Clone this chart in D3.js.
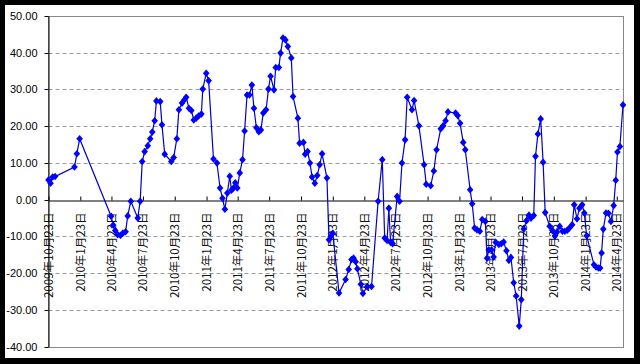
<!DOCTYPE html>
<html><head><meta charset="utf-8">
<script src="https://cdn.jsdelivr.net/npm/d3@7"></script>
<style>body{margin:0;background:#000}svg{display:block}</style>
</head><body>
<svg id="c" width="640" height="364"></svg>
<script>
const dates=[
"2009-10-23","2009-10-29","2009-11-04","2009-11-11",
"2010-01-06","2010-01-13","2010-01-21",
"2010-04-22","2010-04-28","2010-05-04","2010-05-11","2010-05-19","2010-05-26","2010-06-03","2010-06-09","2010-06-18",
"2010-07-08","2010-07-15","2010-07-21","2010-07-28","2010-08-06","2010-08-13","2010-08-19","2010-08-26","2010-08-31",
"2010-09-11","2010-09-16","2010-09-24","2010-10-13","2010-10-20","2010-10-29","2010-11-04","2010-11-13","2010-11-20","2010-11-25",
"2010-12-03","2010-12-10","2010-12-17","2010-12-24","2010-12-31",
"2011-01-08","2011-01-12","2011-01-22","2011-01-29","2011-02-12","2011-02-22","2011-03-03","2011-03-10","2011-03-17","2011-03-24","2011-03-31",
"2011-04-05","2011-04-11","2011-04-16","2011-04-22","2011-04-29","2011-05-07","2011-05-13","2011-05-20","2011-05-27",
"2011-06-03","2011-06-09","2011-06-16","2011-06-23","2011-06-29","2011-07-06","2011-07-14","2011-07-21","2011-07-27",
"2011-08-06","2011-08-11","2011-08-20","2011-08-25","2011-09-01","2011-09-08","2011-09-15","2011-09-25","2011-09-30",
"2011-10-14","2011-10-19","2011-10-30","2011-11-04","2011-11-11","2011-11-18","2011-11-24","2011-12-02","2011-12-09","2011-12-16","2011-12-23",
"2012-01-06","2012-01-12","2012-01-17","2012-01-23","2012-02-10","2012-02-29","2012-03-09","2012-03-17","2012-03-23","2012-03-29",
"2012-04-03","2012-04-13","2012-04-19","2012-05-02","2012-05-14","2012-06-02","2012-06-14","2012-06-21","2012-06-28",
"2012-07-03","2012-07-08","2012-07-14","2012-07-27","2012-08-03","2012-08-10","2012-08-19","2012-08-25",
"2012-09-08","2012-09-14","2012-09-28","2012-10-13","2012-10-19","2012-11-01","2012-11-10","2012-11-18","2012-11-30",
"2012-12-07","2012-12-14","2012-12-21",
"2013-01-12","2013-01-18","2013-01-25","2013-02-03","2013-02-09","2013-02-23","2013-03-01","2013-03-08","2013-03-15","2013-03-23","2013-03-30",
"2013-04-08","2013-04-13","2013-04-18","2013-04-26","2013-05-02","2013-05-08","2013-05-17","2013-05-24","2013-05-31",
"2013-06-08","2013-06-15","2013-06-21","2013-06-29","2013-07-06","2013-07-15","2013-07-21","2013-07-28",
"2013-08-05","2013-08-12","2013-08-18","2013-08-26","2013-08-31","2013-09-07","2013-09-15","2013-09-22","2013-09-28",
"2013-10-11","2013-10-19","2013-10-26","2013-11-01","2013-11-09","2013-11-17","2013-11-24","2013-12-01","2013-12-07","2013-12-15","2013-12-21","2013-12-29",
"2014-01-05","2014-01-13","2014-01-19","2014-01-26","2014-02-16","2014-02-22","2014-03-01","2014-03-06","2014-03-10","2014-03-15","2014-03-23","2014-03-30",
"2014-04-06","2014-04-14","2014-04-20","2014-04-25","2014-05-02","2014-05-11"
];
const values=[
5.4,4.5,6.2,6.3,
8.9,12.5,16.6,
-4.5,-6.9,-8.4,-9.5,-9.7,-9.1,-8.7,-4.4,-0.4,
-5.0,-0.4,10.4,13.1,14.7,16.6,18.4,21.5,26.9,
26.7,20.4,12.4,10.4,11.5,16.6,24.5,26.3,27.2,27.9,
24.9,24.3,21.7,22.2,22.8,
23.3,30.1,34.4,32.4,11.1,10.0,3.2,0.4,-2.6,1.8,6.4,
2.6,3.2,4.6,3.2,7.3,10.9,18.7,28.5,28.5,
31.2,24.9,19.6,18.5,19.0,23.6,24.5,30.1,33.6,
29.9,36.0,36.0,39.9,44.0,43.5,41.7,38.6,28.1,
22.2,15.4,15.6,12.4,13.1,10.0,6.2,4.5,6.6,9.5,12.5,
5.9,-10.9,-10.0,-9.1,-25.4,-21.7,-19.0,-16.3,-15.9,-16.9,
-18.8,-23.0,-25.5,-23.6,-23.6,-0.4,10.9,-10.4,-11.1,
-2.3,-11.6,-12.0,0.9,-0.4,10.0,16.3,27.9,
24.5,27.0,20.1,9.5,4.2,3.8,7.8,13.6,19.3,
20.1,21.5,23.9,
23.6,22.9,20.8,15.6,13.6,2.7,-1.1,-7.7,-8.2,-8.6,-5.4,
-5.9,-15.9,-13.6,-13.6,-15.6,-11.6,-12.2,-12.0,-11.5,
-13.9,-16.5,-15.7,-22.6,-26.2,-34.4,-27.2,-8.0,
-5.7,-4.2,-5.0,-4.3,11.8,17.9,22.0,10.2,-3.5,
-7.2,-8.4,-9.9,-8.8,-7.2,-8.6,-8.6,-8.3,-7.7,-6.8,-1.4,-5.2,
-2.3,-1.4,-3.6,-9.8,-17.7,-18.3,-18.6,-18.6,-14.5,-8.0,-3.6,-3.7,
-5.9,-1.6,5.3,13.0,14.5,25.8
];
const yTicks=[50,40,30,20,10,0,-10,-20,-30,-40];
const yTickLabels=["50.00","40.00","30.00","20.00","10.00","0.00","-10.00","-20.00","-30.00","-40.00"];
const xTickDates=["2009-10-23","2010-01-23","2010-04-23","2010-07-23","2010-10-23","2011-01-23","2011-04-23","2011-07-23","2011-10-23","2012-01-23","2012-04-23","2012-07-23","2012-10-23","2013-01-23","2013-04-23","2013-07-23","2013-10-23","2014-01-23","2014-04-23"];
const xTickLabels=["2009年10月23日","2010年1月23日","2010年4月23日","2010年7月23日","2010年10月23日","2011年1月23日","2011年4月23日","2011年7月23日","2011年10月23日","2012年1月23日","2012年4月23日","2012年7月23日","2012年10月23日","2013年1月23日","2013年4月23日","2013年7月23日","2013年10月23日","2014年1月23日","2014年4月23日"];
const xDomain=["2009-10-23","2014-05-11"];

const W=640,H=364,L=48.5,R=623,T=16,B=346.7;
const parse=d3.utcParse("%Y-%m-%d");
const data=dates.map((d,i)=>({date:parse(d),v:values[i]}));
const x=d3.scaleUtc().domain(xDomain.map(parse)).range([L,R]);
const y=d3.scaleLinear().domain([-40,50]).range([B,T]);
const py=v=>Math.round(y(v))+0.5;

const svg=d3.select("#c");
svg.append("rect").attr("width",W).attr("height",H).attr("fill","#000");
svg.append("rect").attr("x",5).attr("y",5).attr("width",629).attr("height",353).attr("fill","#fff");

// dashed gridlines
svg.append("g").selectAll("line").data(yTicks.filter(v=>v!==0&&v!==50&&v!==-40)).join("line")
  .attr("x1",L).attr("x2",R).attr("y1",py).attr("y2",py)
  .attr("stroke","#9a9a9a").attr("stroke-width",1).attr("stroke-dasharray","4,3");

// plot border
svg.append("rect").attr("x",L).attr("y",py(50)).attr("width",Math.round(R-L)).attr("height",py(-40)-py(50))
  .attr("fill","none").attr("stroke","#888").attr("stroke-width",1);

// y axis
const yAxis=d3.axisLeft(y).tickValues(yTicks).tickFormat((d,i)=>yTickLabels[i]).tickSize(4).tickPadding(7).tickSizeOuter(0);
const gy=svg.append("g").attr("transform",`translate(${L},0)`).call(yAxis);
gy.selectAll(".tick").attr("transform",d=>`translate(0,${py(d)})`);
gy.select(".domain").attr("stroke","#000");
gy.selectAll(".tick line").attr("stroke","#000");
gy.selectAll("text").attr("font-family","'Liberation Sans',Arial,sans-serif").attr("font-size","11px").attr("fill","#000");

// x axis at zero
const xAxis=d3.axisBottom(x).tickValues(xTickDates.map(parse)).tickFormat((d,i)=>xTickLabels[i]).tickSize(-4).tickSizeOuter(0);
const gx=svg.append("g").attr("transform",`translate(0,${py(0)})`).call(xAxis);
gx.select(".domain").attr("stroke","#000");
gx.selectAll(".tick line").attr("stroke","#000");
gx.selectAll("text")
  .attr("transform","rotate(-90)").attr("text-anchor","end")
  .attr("x",-12).attr("y",0).attr("dy","0.35em")
  .attr("font-family","'Noto Sans CJK SC',sans-serif").attr("font-size","11.5px").attr("fill","#111");

// line
svg.append("path").datum(data)
  .attr("d",d3.line().x(d=>x(d.date)).y(d=>y(d.v)))
  .attr("fill","none").attr("stroke","#0000cc").attr("stroke-width",1.2);

// diamond markers
svg.append("g").selectAll("path").data(data).join("path")
  .attr("transform",d=>`translate(${x(d.date)},${y(d.v)})`)
  .attr("d","M0,-3.8L3.3,0L0,3.8L-3.3,0Z")
  .attr("fill","#0000ff");
</script>
</body></html>
